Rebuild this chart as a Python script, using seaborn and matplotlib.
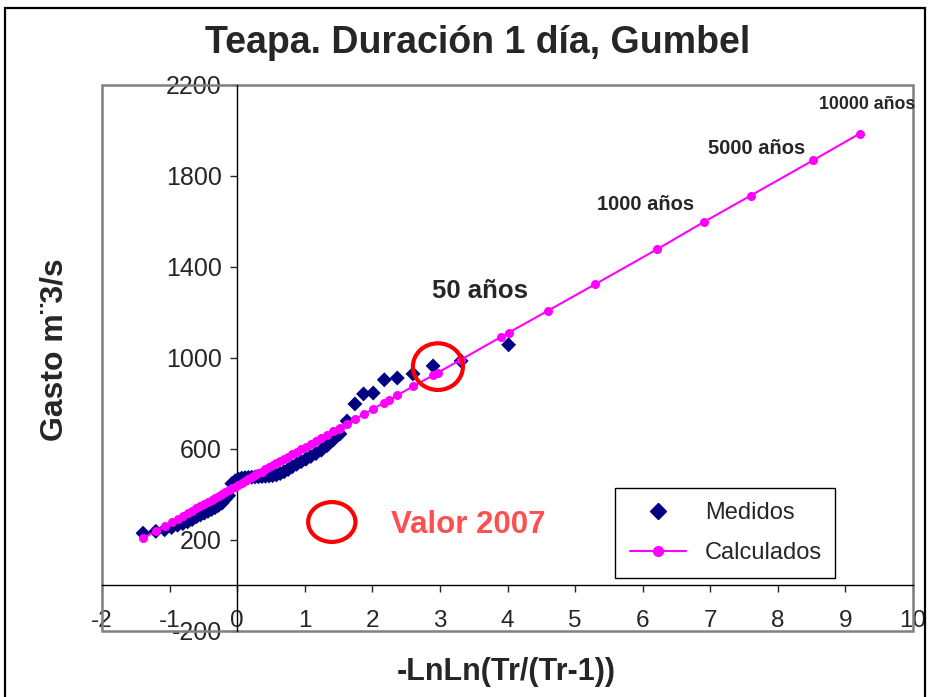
import numpy as np
import pandas as pd
import seaborn as sns
import matplotlib.pyplot as plt
from matplotlib.patches import Ellipse, Rectangle
from matplotlib.lines import Line2D

# -LnLn(Tr/(Tr-1)) of each measured year (ascending)
x_muestra = [-1.393, -1.204, -1.074, -0.970, -0.882, -0.804, -0.732, -0.666, -0.603, -0.544,
             -0.487, -0.432, -0.379, -0.327, -0.276, -0.225, -0.176, -0.127, -0.078, -0.029,
             0.019, 0.068, 0.117, 0.166, 0.215, 0.265, 0.315, 0.367, 0.418, 0.471,
             0.525, 0.581, 0.637, 0.695, 0.755, 0.817, 0.881, 0.947, 1.017, 1.089,
             1.166, 1.246, 1.331, 1.422, 1.520, 1.626, 1.742, 1.870, 2.013, 2.177,
             2.369, 2.602, 2.899, 3.314, 4.016]
q_medidos = [230, 238, 245, 255, 265, 272, 280, 290, 302, 310,
             318, 326, 334, 342, 352, 362, 380, 395, 448, 460,
             468, 472, 474, 475, 476, 477, 478, 479, 480, 481,
             483, 486, 492, 500, 510, 522, 533, 544, 555, 567,
             580, 595, 615, 640, 666, 723, 798, 842, 846, 904,
             912, 930, 965, 987, 1058]
q_calc_muestra = [207, 239, 261, 278, 293, 306, 318, 329, 339, 349,
                  359, 368, 377, 385, 394, 402, 411, 419, 427, 435,
                  443, 451, 460, 468, 476, 484, 493, 501, 510, 519,
                  528, 537, 546, 556, 566, 576, 587, 598, 610, 622,
                  635, 648, 662, 677, 694, 712, 731, 752, 776, 804,
                  836, 875, 924, 993, 1111]

# design return periods
tr = [2, 5, 10, 20, 50, 100, 200, 500, 1000, 2000, 5000, 10000]
x_tr = [0.367, 1.500, 2.250, 2.970, 3.902, 4.600, 5.296, 6.214, 6.907, 7.600, 8.517, 9.210]
q_tr = [501, 690, 816, 936, 1092, 1208, 1324, 1478, 1598, 1714, 1868, 1986]

x_ticks = [-2, -1, 0, 1, 2, 3, 4, 5, 6, 7, 8, 9, 10]
y_ticks = [-200, 200, 600, 1000, 1400, 1800, 2200]

sns.set_style('white')
plt.rcParams['font.family'] = ['Liberation Sans', 'DejaVu Sans']
plt.rcParams['axes.unicode_minus'] = False

df_med = pd.DataFrame({'x': x_muestra, 'q': q_medidos})
df_calc = pd.DataFrame({'x': x_muestra + x_tr, 'q': q_calc_muestra + q_tr}).sort_values('x')

fig = plt.figure(figsize=(9.3, 6.97), dpi=100)
ax = fig.add_axes([0.1097, 0.0947, 0.8720, 0.7834])

sns.scatterplot(data=df_med, x='x', y='q', marker='D', s=58, color='#000080',
                edgecolor='none', ax=ax, zorder=3)
sns.lineplot(data=df_calc, x='x', y='q', estimator=None, sort=True, color='#FF00FF',
             lw=1.5, marker='o', markersize=6.5, markeredgecolor='none', ax=ax, zorder=4)

ax.set_xlim(-2, 10)
ax.set_ylim(-200, 2200)
ax.set_xticks(x_ticks)
ax.set_yticks(y_ticks)
ax.set_xlabel('')
ax.set_ylabel('')

# axes cross at the origin like the excel chart
ax.spines['left'].set_position(('data', 0))
ax.spines['bottom'].set_position(('data', 0))
for s in ['left', 'bottom']:
    ax.spines[s].set_color('black')
    ax.spines[s].set_linewidth(1)
ax.spines['top'].set_visible(False)
ax.spines['right'].set_visible(False)
ax.add_patch(Rectangle((0, 0), 1, 1, transform=ax.transAxes, fill=False,
                       edgecolor='#808080', lw=1.8, clip_on=False, zorder=1))

ax.tick_params(axis='y', direction='out', length=5, width=1, labelsize=18, pad=6, left=True)
ax.tick_params(axis='x', direction='out', length=5, width=1, labelsize=17.5, pad=13, bottom=True)

# return period labels
ax.text(3.59, 1295, '50 años', fontsize=18.5, fontweight='bold', ha='center', va='center')
ax.text(6.05, 1674, '1000 años', fontsize=14.5, fontweight='bold', ha='center', va='center')
ax.text(7.69, 1920, '5000 años', fontsize=14.5, fontweight='bold', ha='center', va='center')
ax.text(9.32, 2114, '10000 años', fontsize=12.8, fontweight='bold', ha='center', va='center')

# 2007 marks
ax.add_patch(Ellipse((2.97, 962), 0.74, 205, fill=False, edgecolor='#FF0000', lw=3, zorder=5))
ax.add_patch(Ellipse((1.40, 279), 0.70, 175, fill=False, edgecolor='#FF0000', lw=3, zorder=5))
ax.text(3.42, 266, 'Valor 2007', fontsize=22.5, fontweight='bold', color='#FF4F4F',
        ha='center', va='center')

handles = [Line2D([], [], ls='none', marker='D', markersize=8.5, color='#000080'),
           Line2D([], [], color='#FF00FF', lw=1.5, marker='o', markersize=7)]
leg = ax.legend(handles, ['Medidos', 'Calculados'], loc='lower left',
                bbox_to_anchor=(0.633, 0.097, 0.271, 0.169), mode='expand', borderaxespad=0,
                fontsize=17, frameon=True, fancybox=False, framealpha=1,
                edgecolor='black', handlelength=2.4, borderpad=0.6, labelspacing=0.75)
leg.get_frame().set_linewidth(1)

fig.text(0.514, 0.938, 'Teapa. Duración 1 día, Gumbel', fontsize=27, fontweight='bold',
         ha='center', va='center')
fig.text(0.059, 0.498, 'Gasto m¨3/s', fontsize=23, fontweight='bold', rotation=90,
         ha='center', va='center')
fig.text(0.544, 0.036, '-LnLn(Tr/(Tr-1))', fontsize=22, fontweight='bold',
         ha='center', va='center')

fig.patches.append(Rectangle((0.0054, -0.01), 0.9892, 0.9985, transform=fig.transFigure,
                             fill=False, edgecolor='black', lw=1.6))

fig.savefig('out.png', dpi=100)
